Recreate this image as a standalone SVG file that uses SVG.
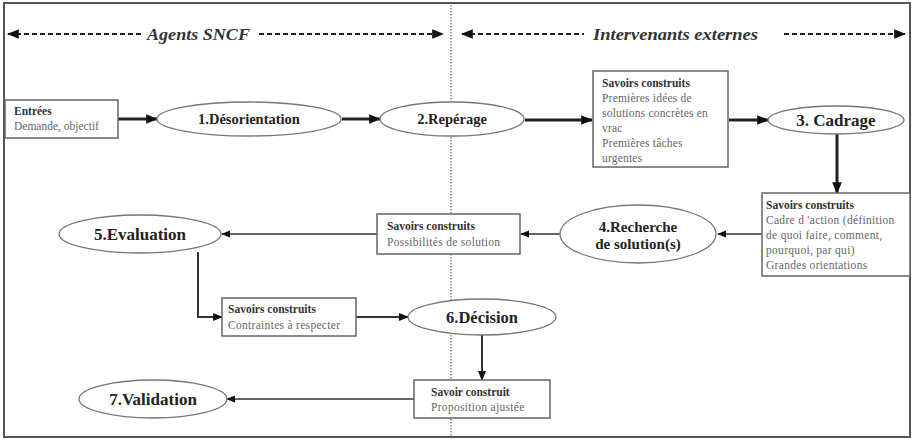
<svg xmlns="http://www.w3.org/2000/svg" width="913" height="439" viewBox="0 0 913 439" font-family="Liberation Serif, Times New Roman, DejaVu Serif, serif">
<defs>
<marker id="ah" viewBox="0 0 10 10" refX="9" refY="5" markerWidth="4" markerHeight="4" orient="auto" markerUnits="strokeWidth"><path d="M0,1 L10,5 L0,9 z" fill="#111"/></marker>
<marker id="ah2" viewBox="0 0 10 10" refX="9" refY="5" markerWidth="5" markerHeight="5" orient="auto" markerUnits="strokeWidth"><path d="M0,1 L10,5 L0,9 z" fill="#111"/></marker>
<marker id="ahs" viewBox="0 0 10 10" refX="9" refY="5" markerWidth="6" markerHeight="6" orient="auto" markerUnits="strokeWidth"><path d="M0,1 L10,5 L0,9 z" fill="#111"/></marker>
<marker id="ahsr" viewBox="0 0 10 10" refX="1" refY="5" markerWidth="6" markerHeight="6" orient="auto" markerUnits="strokeWidth"><path d="M10,1 L0,5 L10,9 z" fill="#111"/></marker>
</defs>
<style>
.bg{fill:#fff}
.frame{fill:none;stroke:#555;stroke-width:2}
.sep{stroke:#888;stroke-width:1.5;stroke-dasharray:1.5 1.5}
.hd{stroke:#222;stroke-width:2;stroke-dasharray:5 3;fill:none}
.ht{font-style:italic;font-weight:bold;font-size:17px;fill:#333}
.box{fill:#fff;stroke:#666;stroke-width:1.5}
.ell{fill:#fff;stroke:#777;stroke-width:1.3}
.et{font-weight:bold;fill:#222;text-anchor:middle}
.bt{font-weight:bold;font-size:11.5px;fill:#333}
.tt{font-size:11.5px;fill:#666}
.thick{stroke:#222;stroke-width:3;fill:none;marker-end:url(#ah)}
.med{stroke:#333;stroke-width:2;fill:none;marker-end:url(#ah2)}
.thin{stroke:#333;stroke-width:1.5;fill:none;marker-end:url(#ahs)}
</style>
<rect class="bg" x="0" y="0" width="913" height="439"/>
<rect class="frame" x="4" y="3" width="906" height="434"/>
<line class="sep" x1="451" y1="5" x2="451" y2="436"/>
<g id="header-left">
<line class="hd" x1="8" y1="34" x2="142" y2="34" style="marker-start:url(#ahsr)"/>
<text class="ht" x="147" y="40" textLength="103" lengthAdjust="spacingAndGlyphs">Agents SNCF</text>
<line class="hd" x1="259" y1="34" x2="443" y2="34" style="marker-end:url(#ahs)"/>
</g>
<g id="header-right">
<line class="hd" x1="462" y1="34" x2="584" y2="34" style="marker-start:url(#ahsr)"/>
<text class="ht" x="593" y="40" textLength="165" lengthAdjust="spacingAndGlyphs">Intervenants externes</text>
<line class="hd" x1="784" y1="34" x2="905" y2="34" style="marker-end:url(#ahs)"/>
</g>
<g id="connectors">
<line class="thick" x1="118" y1="119" x2="157" y2="119"/>
<line class="thick" x1="342" y1="119" x2="380" y2="119"/>
<line class="thick" x1="525" y1="120" x2="592" y2="120"/>
<line class="thick" x1="729" y1="120" x2="768" y2="120"/>
<line class="thick" x1="837" y1="134" x2="837" y2="193"/>
<line class="thin" x1="762" y1="234" x2="718" y2="234"/>
<line class="thin" x1="560" y1="234" x2="521" y2="234"/>
<line class="thin" x1="377" y1="234" x2="222" y2="234"/>
<polyline class="med" points="198,252 198,317 222,317"/>
<line class="med" x1="356" y1="317" x2="408" y2="317"/>
<line class="med" x1="482" y1="335" x2="482" y2="380"/>
<line class="thin" x1="414" y1="399" x2="227" y2="399"/>
</g>
<g id="entrees">
<rect class="box" x="5" y="100" width="113" height="38"/>
<text class="bt" x="14" y="115">Entrées</text>
<text class="tt" x="14" y="130">Demande, objectif</text>
</g>
<g id="n1">
<ellipse class="ell" cx="249" cy="119" rx="92" ry="17"/>
<text class="et" x="249" y="124" font-size="14.5">1.Désorientation</text>
</g>
<g id="n2">
<ellipse class="ell" cx="452" cy="119" rx="72" ry="17"/>
<text class="et" x="452" y="124" font-size="14.5">2.Repérage</text>
</g>
<g id="savoirs1">
<rect class="box" x="593" y="71" width="135" height="96"/>
<text class="bt" x="602" y="87">Savoirs construits</text>
<text class="tt" x="602" y="102" letter-spacing="0.2">Premières idées de</text>
<text class="tt" x="602" y="117" letter-spacing="0.2">solutions concrètes en</text>
<text class="tt" x="602" y="132" letter-spacing="0.2">vrac</text>
<text class="tt" x="602" y="147" letter-spacing="0.2">Premières tâches</text>
<text class="tt" x="602" y="162" letter-spacing="0.2">urgentes</text>
</g>
<g id="n3">
<ellipse class="ell" cx="836" cy="120" rx="68" ry="14"/>
<text class="et" x="836" y="126" font-size="17">3. Cadrage</text>
</g>
<g id="savoirs2">
<rect class="box" x="762" y="193" width="148" height="83"/>
<text class="bt" x="766" y="209">Savoirs construits</text>
<text class="tt" x="766" y="224" letter-spacing="0.3">Cadre d 'action (définition</text>
<text class="tt" x="766" y="239" letter-spacing="0.3">de quoi faire, comment,</text>
<text class="tt" x="766" y="254" letter-spacing="0.3">pourquoi, par qui)</text>
<text class="tt" x="766" y="269" letter-spacing="0.3">Grandes orientations</text>
</g>
<g id="n4">
<ellipse class="ell" cx="638" cy="234" rx="78" ry="29"/>
<text class="et" x="638" y="232" font-size="15">4.Recherche</text>
<text class="et" x="638" y="249" font-size="15">de solution(s)</text>
</g>
<g id="savoirs3">
<rect class="box" x="377" y="214" width="143" height="40"/>
<text class="bt" x="387" y="230">Savoirs construits</text>
<text class="tt" x="387" y="246" letter-spacing="0.3">Possibilités de solution</text>
</g>
<g id="n5">
<ellipse class="ell" cx="140" cy="234" rx="81" ry="19"/>
<text class="et" x="140" y="240" font-size="17">5.Evaluation</text>
</g>
<g id="savoirs4">
<rect class="box" x="222" y="298" width="134" height="38"/>
<text class="bt" x="228" y="313">Savoirs construits</text>
<text class="tt" x="228" y="329" letter-spacing="0.3">Contraintes à respecter</text>
</g>
<g id="n6">
<ellipse class="ell" cx="482" cy="317" rx="74" ry="18"/>
<text class="et" x="482" y="323" font-size="16.5">6.Décision</text>
</g>
<g id="savoir5">
<rect class="box" x="414" y="380" width="136" height="38"/>
<text class="bt" x="431" y="396">Savoir construit</text>
<text class="tt" x="431" y="411" letter-spacing="0.3">Proposition ajustée</text>
</g>
<g id="n7">
<ellipse class="ell" cx="153" cy="399" rx="74" ry="19"/>
<text class="et" x="153" y="405" font-size="17">7.Validation</text>
</g>
</svg>
